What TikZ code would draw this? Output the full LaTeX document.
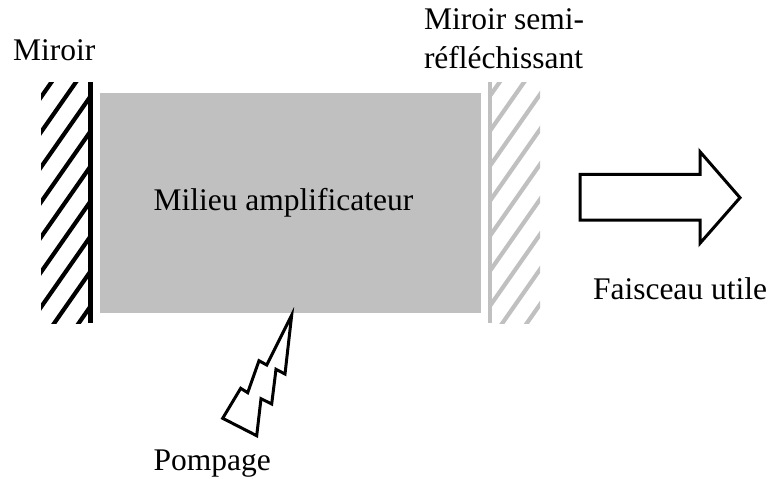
\documentclass[tikz,border=0pt]{standalone}
\usepackage{fontspec}
\setmainfont{Liberation Serif}
\definecolor{milieu}{HTML}{C0C0C0}
\tikzset{
  label text/.style={anchor=base west,inner sep=0pt,outer sep=0pt,font=\fontsize{31.5}{36}\selectfont},
  mirror line/.style={line width=4.5pt},
  hatch line/.style={line width=4.2pt},
  outline/.style={draw=black,fill=white,line width=3pt,miter limit=10}
}
\begin{document}
\begin{tikzpicture}[x=1pt,y=-1pt]
\useasboundingbox (0,0) rectangle (769,479);
% gain medium
\fill[milieu] (100,93) rectangle (481,313);
% left mirror
\begin{scope}
\clip (41,82) rectangle (92,323);
\foreach \yy in {30,65,100,135,170,205,240,275,310}
  \draw[hatch line,black] (88,\yy) ++(-70,100) -- ++(100,-143);
\end{scope}
\draw[mirror line,black] (90.5,82) -- (90.5,323);
% right mirror
\begin{scope}
\clip (488,82) rectangle (540,323);
\foreach \yy in {93,128,163,198,233,268,303,338,373}
  \draw[hatch line,milieu] (492,\yy) ++(-70,100) -- ++(140,-200);
\end{scope}
\draw[mirror line,milieu] (490,82) -- (490,323);
% pump
\draw[outline] (291.7,315) -- (285,374) -- (276,369.3) -- (271.7,404) -- (261,398.7) -- (256.7,435.7) -- (222.7,418.3) -- (240.7,388.3) -- (247.7,392.7) -- (259,360.7) -- (266.7,365) -- cycle;
% output beam
\draw[outline] (580,174.3) -- (700,174.3) -- (700,151.7) -- (740,197.7) -- (700,243.3) -- (700,220) -- (580,220) -- cycle;
% labels
\node[label text] (miroir) at (13,60) {Miroir};
\node[label text] (semi1) at (424,30) {Miroir semi-};
\node[label text] (semi2) at (424,68.5) {réfléchissant};
\node[label text] (milieu) at (153.5,210) {Milieu amplificateur};
\node[label text] (faisceau) at (593,299) {Faisceau utile};
\node[label text] (pompage) at (153.5,470) {Pompage};
\end{tikzpicture}
\end{document}
